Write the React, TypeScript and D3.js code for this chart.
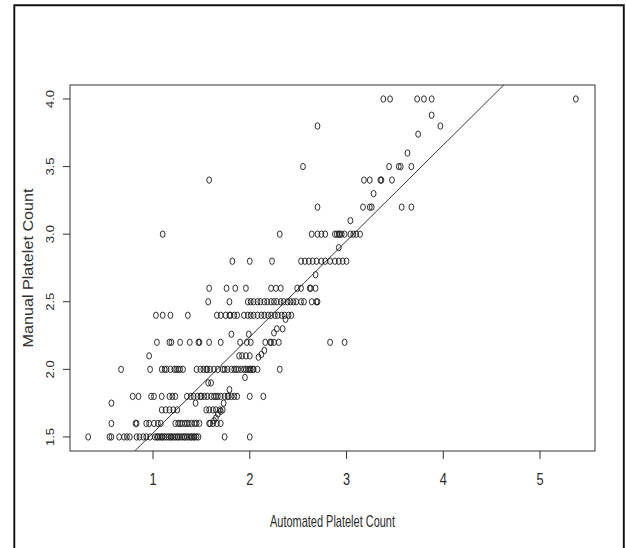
import React from "react";
import * as d3 from "d3";

// ---- data ----
const manualLevels = [1.5, 1.6, 1.7, 1.8, 1.9, 2.0, 2.1, 2.2, 2.4, 2.5, 2.6, 2.8, 3.0, 3.2, 3.4, 3.5, 4.0];
const automatedByLevel = [
  [0.33, 0.55, 0.57, 0.65, 0.70, 0.73, 0.76, 0.83, 0.86, 0.90, 0.93, 0.97, 1.02, 1.04, 1.05, 1.07, 1.09, 1.10, 1.12, 1.14, 1.16, 1.18, 1.19, 1.21, 1.23, 1.25, 1.26, 1.28, 1.30, 1.32, 1.33, 1.35, 1.37, 1.39, 1.40, 1.42, 1.43, 1.45, 1.47, 1.74, 2.00],
  [0.57, 0.82, 0.83, 0.93, 0.96, 1.01, 1.05, 1.08, 1.23, 1.26, 1.28, 1.30, 1.33, 1.35, 1.37, 1.40, 1.43, 1.45, 1.48, 1.58, 1.59, 1.62, 1.66, 1.70],
  [1.09, 1.13, 1.17, 1.21, 1.25, 1.55, 1.58, 1.62, 1.65, 1.69, 1.72],
  [0.79, 0.85, 0.98, 1.01, 1.09, 1.17, 1.20, 1.23, 1.35, 1.39, 1.42, 1.46, 1.49, 1.50, 1.53, 1.56, 1.60, 1.63, 1.65, 1.67, 1.70, 1.74, 1.77, 1.78, 1.81, 1.84, 1.87, 2.00, 2.14],
  [1.57, 1.60],
  [0.67, 0.97, 1.09, 1.12, 1.14, 1.18, 1.22, 1.24, 1.26, 1.28, 1.31, 1.45, 1.49, 1.52, 1.55, 1.56, 1.59, 1.63, 1.67, 1.72, 1.74, 1.77, 1.81, 1.84, 1.86, 1.88, 1.91, 1.94, 1.96, 1.98, 2.00, 2.01, 2.03, 2.04, 2.08, 2.31],
  [0.96, 1.89, 1.92, 1.96, 2.00],
  [1.04, 1.17, 1.19, 1.28, 1.38, 1.47, 1.48, 1.58, 1.70, 1.90, 1.97, 2.01, 2.16, 2.21, 2.22, 2.25, 2.30, 2.83, 2.98],
  [1.03, 1.10, 1.18, 1.36, 1.66, 1.70, 1.75, 1.79, 1.80, 1.84, 1.87, 1.94, 1.98, 2.01, 2.04, 2.08, 2.12, 2.15, 2.19, 2.22, 2.26, 2.29, 2.33, 2.36, 2.40, 2.43],
  [1.57, 1.79, 1.98, 2.01, 2.04, 2.08, 2.11, 2.15, 2.18, 2.22, 2.25, 2.28, 2.32, 2.35, 2.39, 2.42, 2.45, 2.48, 2.53, 2.56, 2.64, 2.69, 2.70],
  [1.58, 1.76, 1.85, 1.96, 2.22, 2.27, 2.32, 2.49, 2.53, 2.62, 2.63, 2.68],
  [1.82, 2.00, 2.23, 2.53, 2.57, 2.61, 2.65, 2.69, 2.74, 2.78, 2.83, 2.88, 2.92, 2.96, 3.00],
  [1.10, 2.31, 2.64, 2.70, 2.74, 2.78, 2.88, 2.90, 2.92, 2.93, 2.95, 2.98, 3.04, 3.07, 3.10, 3.14],
  [2.70, 3.17, 3.24, 3.26, 3.57, 3.67],
  [1.58, 3.18, 3.24, 3.35, 3.36, 3.47],
  [2.55, 3.44, 3.54, 3.56, 3.67],
  [3.38, 3.45, 3.73, 3.80, 3.88, 5.37],
];
const extraAutomated = [0.57, 1.44, 1.73, 1.79, 1.95, 1.63, 1.65, 1.67, 1.70, 2.09, 2.12, 2.15, 1.81, 1.99, 2.25, 2.28, 2.34, 2.37, 2.68, 2.92, 3.04, 3.28, 3.63, 3.74, 3.88, 3.97, 2.70];
const extraManual = [1.75, 1.75, 1.75, 1.85, 1.94, 1.62, 1.64, 1.67, 1.69, 2.09, 2.11, 2.14, 2.26, 2.26, 2.27, 2.30, 2.30, 2.37, 2.70, 2.90, 3.10, 3.30, 3.60, 3.74, 3.88, 3.80, 3.80];

const xTicks = [1, 2, 3, 4, 5];
const yTicks = [1.5, 2.0, 2.5, 3.0, 3.5, 4.0];
const fitIntercept = 0.82;
const fitSlope = 0.71;
const xTitle = "Automated Platelet Count";
const yTitle = "Manual Platelet Count";

// ---- layout ----
const W = 626;
const H = 548;
const plot = { left: 70, right: 595, top: 85, bottom: 451 };

export default function App() {
  const x = d3.scaleLinear().domain([0.142, 5.568]).range([plot.left, plot.right]);
  const y = d3.scaleLinear().domain([1.396, 4.1035]).range([plot.bottom, plot.top]);

  const points: { a: number; m: number }[] = [];
  manualLevels.forEach((m, i) => automatedByLevel[i].forEach((a) => points.push({ a, m })));
  extraAutomated.forEach((a, i) => points.push({ a, m: extraManual[i] }));

  const [x0, x1] = x.domain();
  const line = d3.line<number>().x((d) => x(d)).y((d) => y(fitIntercept + fitSlope * d));

  const font = "'Liberation Sans', Arial, sans-serif";

  return (
    <svg width={W} height={H} style={{ position: "absolute", left: 0, top: 0, background: "#fff" }}>
      <rect x={0} y={0} width={W} height={H} fill="#fff" />
      {/* outer frame */}
      <path d={`M14.3,${H + 5} V5.2 H623.8 V${H + 5}`} fill="none" stroke="#111" strokeWidth={1.9} />
      <defs>
        <clipPath id="plotClip">
          <rect x={plot.left} y={plot.top} width={plot.right - plot.left} height={plot.bottom - plot.top} />
        </clipPath>
      </defs>
      {/* points */}
      <g fill="none" stroke="#1a1a1a" strokeWidth={0.9}>
        {points.map((p, i) => (
          <ellipse key={i} cx={x(p.a)} cy={y(p.m)} rx={2.4} ry={3.2} />
        ))}
      </g>
      {/* regression line */}
      <path d={line([x0, x1]) || ""} fill="none" stroke="#222" strokeWidth={0.9} clipPath="url(#plotClip)" />
      {/* box */}
      <rect x={plot.left} y={plot.top} width={plot.right - plot.left} height={plot.bottom - plot.top} fill="none" stroke="#333" strokeWidth={1} />
      {/* ticks */}
      <g stroke="#333" strokeWidth={1}>
        {xTicks.map((t) => (
          <line key={t} x1={x(t)} x2={x(t)} y1={plot.bottom} y2={plot.bottom + 8} />
        ))}
        {yTicks.map((t) => (
          <line key={t} x1={plot.left} x2={plot.left - 7} y1={y(t)} y2={y(t)} />
        ))}
      </g>
      <g fill="#2a2a2a" fontFamily={font}>
        {xTicks.map((t) => (
          <text key={t} transform={`translate(${x(t)},485) scale(0.8,1)`} textAnchor="middle" fontSize={16}>
            {String(t)}
          </text>
        ))}
        {yTicks.map((t) => (
          <text key={t} transform={`translate(53.5,${y(t)}) rotate(-90) scale(1,0.9)`} textAnchor="middle" fontSize={13}>
            {d3.format(".1f")(t)}
          </text>
        ))}
        <text x={(plot.left + plot.right) / 2} y={527} textAnchor="middle" fontSize={17} textLength={125} lengthAdjust="spacingAndGlyphs">
          {xTitle}
        </text>
        <text transform={`translate(33,${(plot.top + plot.bottom) / 2}) rotate(-90)`} textAnchor="middle" fontSize={15} fill="#333" textLength={159} lengthAdjust="spacingAndGlyphs">
          {yTitle}
        </text>
      </g>
    </svg>
  );
}
